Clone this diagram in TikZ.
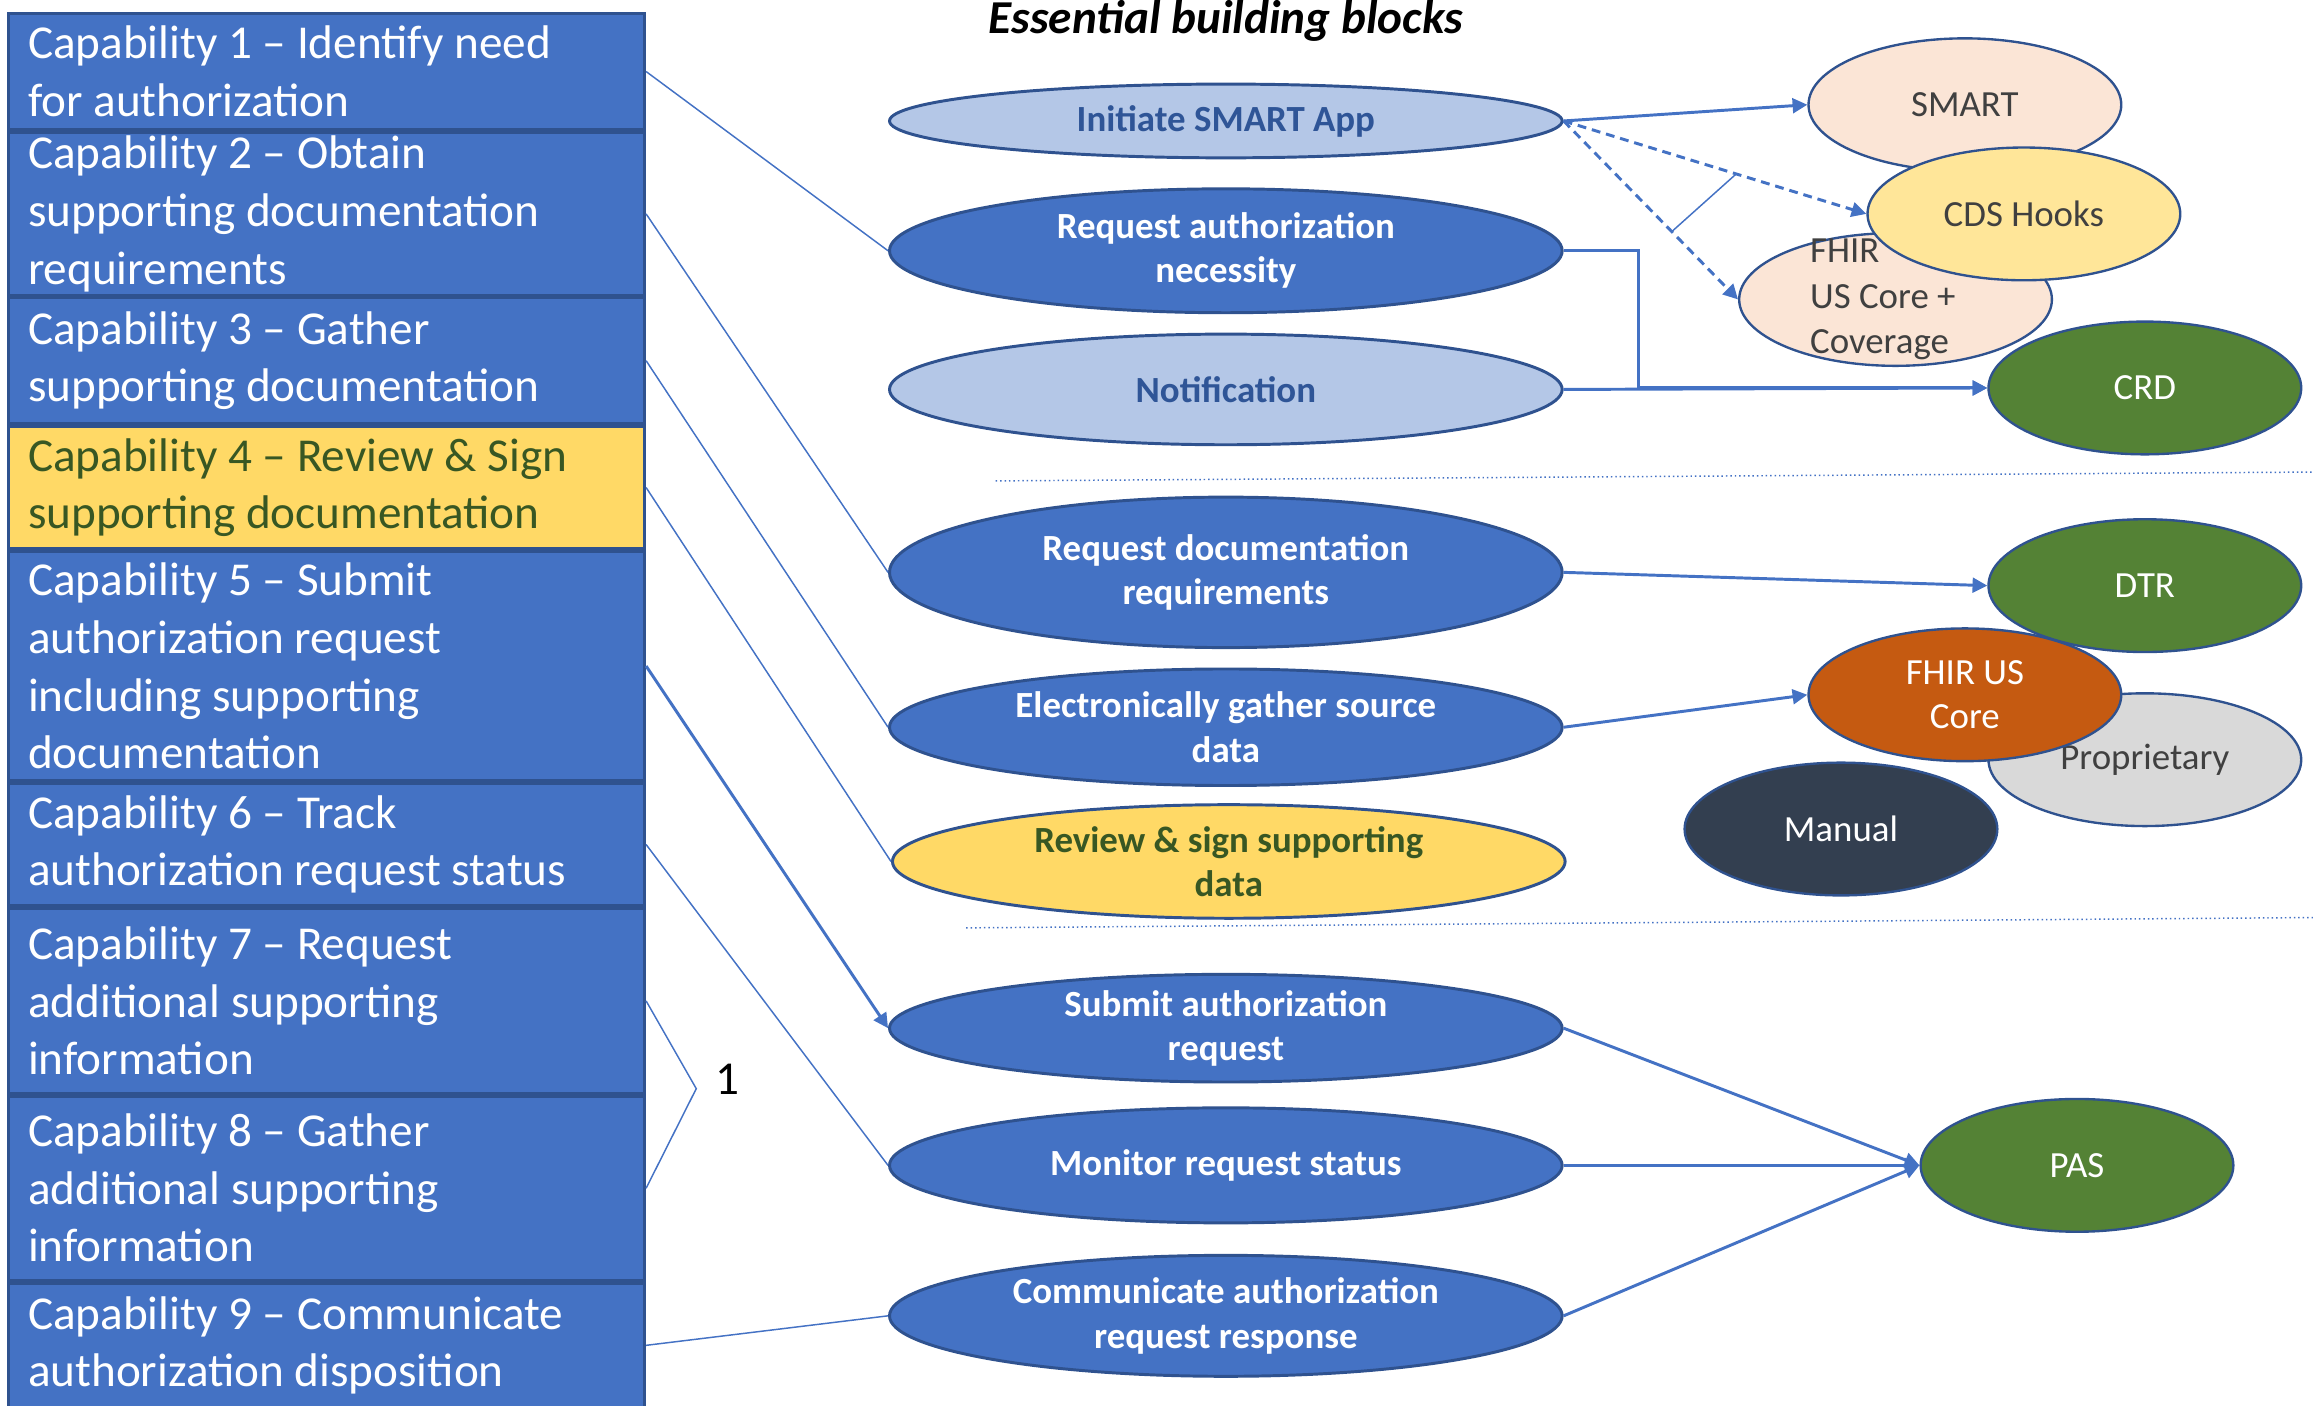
\documentclass[tikz,border=0pt]{standalone}
\usepackage{fontspec}
\setmainfont{Carlito}
\usepackage{tikz}
\usetikzlibrary{shapes, arrows.meta, positioning, calc}
\definecolor{capblue}{HTML}{4472C4}
\definecolor{edgeblue}{HTML}{2F528F}
\definecolor{paleblue}{HTML}{B4C7E7}
\definecolor{inkblue}{HTML}{2F5597}
\definecolor{signyellow}{HTML}{FFD966}
\definecolor{hookyellow}{HTML}{FFE699}
\definecolor{signgreen}{HTML}{385723}
\definecolor{peach}{HTML}{FBE5D6}
\definecolor{leaf}{HTML}{548235}
\definecolor{rust}{HTML}{C55A11}
\definecolor{silver}{HTML}{D9D9D9}
\definecolor{navy}{HTML}{333F50}
\definecolor{inkgray}{HTML}{404040}

\tikzset{
  capbox/.style={draw=edgeblue, line width=1pt, fill=capblue, text=white, anchor=north west,
    text width=202.5pt, inner xsep=6.5pt, inner ysep=0pt, align=flush left,
    font=\fontsize{16}{19.5}\selectfont},
  block/.style={ellipse, draw=edgeblue, line width=1pt, fill=capblue, text=white, inner sep=0pt,
    minimum width=228pt, align=center, font=\fontsize{12.5}{15}\selectfont\bfseries},
  paleblock/.style={block, fill=paleblue, text=inkblue},
  bubble/.style={ellipse, draw=edgeblue, line width=0.8pt, text=white, inner sep=0pt, align=center,
    minimum width=106pt, minimum height=45pt, font=\fontsize{12.5}{15}\selectfont},
  feed/.style={capblue, line width=0.5pt},
  link/.style={capblue, line width=1pt, -{Triangle[length=5pt,width=5pt]}},
  sep/.style={capblue, line width=0.5pt, densely dotted}
}

\begin{document}
\begin{tikzpicture}[x=0.5pt, y=-0.5pt]
      \useasboundingbox (0,0) rectangle (1568,953);

      \node[capbox, minimum height=39.5pt] (cap1) at (5,8) {Capability 1 -- Identify need\\for authorization};
      \node[capbox, minimum height=55pt, below=0pt of cap1] (cap2) {Capability 2 -- Obtain\\supporting documentation\\requirements};
      \node[capbox, minimum height=42.5pt, below=0pt of cap2] (cap3) {Capability 3 -- Gather\\supporting documentation};
      \node[capbox, minimum height=41.5pt, below=0pt of cap3, fill=signyellow, text=signgreen] (cap4) {Capability 4 -- Review \& Sign\\supporting documentation};
      \node[capbox, minimum height=77.5pt, below=0pt of cap4] (cap5) {Capability 5 -- Submit\\authorization request\\including supporting\\documentation};
      \node[capbox, minimum height=41.5pt, below=0pt of cap5] (cap6) {Capability 6 -- Track\\authorization request status};
      \node[capbox, minimum height=62.5pt, below=0pt of cap6] (cap7) {Capability 7 -- Request\\additional supporting\\information};
      \node[capbox, minimum height=62.5pt, below=0pt of cap7] (cap8) {Capability 8 -- Gather\\additional supporting\\information};
      \node[capbox, minimum height=42pt, below=0pt of cap8] (cap9) {Capability 9 -- Communicate\\authorization disposition};

      \node[font=\fontsize{16}{19}\selectfont\bfseries\itshape] (title) at (831,14) {Essential building blocks};

      \node[paleblock, minimum height=25pt] (init) at (831,82) {Initiate SMART App};
      \node[block, minimum height=42pt] (necess) at (831,170) {Request authorization\\necessity};
      \node[paleblock, minimum height=37.5pt] (notif) at (831,264) {Notification};
      \node[block, minimum height=51pt] (docreq) at (831,388) {Request documentation\\requirements};
      \node[block, minimum height=39.5pt] (gather) at (831,493) {Electronically gather source\\data};
      \node[block, minimum height=38.5pt, fill=signyellow, text=signgreen] (review) at (833,584) {Review \& sign supporting\\data};
      \node[block, minimum height=36.5pt] (submit) at (831,697) {Submit authorization\\request};
      \node[block, minimum height=39pt] (monitor) at (831,790) {Monitor request status};
      \node[block, minimum height=41pt] (respond) at (831,892) {Communicate authorization\\request response};

      \draw[sep] (675,326) -- (1568,320);
      \draw[sep] (655,629) -- (1568,622);

      \node[bubble, fill=peach, text=inkgray] (smart) at (1332,71) {SMART};
      \node[bubble, fill=peach] (fhir) at (1285,203) {};
      \node[text=inkgray, align=left, anchor=west, font=\fontsize{12.5}{15.5}\selectfont] (fhirtext) at (1220,203) {FHIR\\US Core +\\Coverage};
      \node[bubble, fill=hookyellow, text=inkgray] (cds) at (1372,145) {CDS Hooks};
      \node[bubble, fill=leaf] (crd) at (1454,263) {CRD};
      \node[bubble, fill=leaf] (dtr) at (1454,397) {DTR};
      \node[bubble, fill=silver, text=inkgray] (prop) at (1454,515) {Proprietary};
      \node[bubble, fill=rust] (uscore) at (1332,471) {FHIR US\\Core};
      \node[bubble, fill=navy] (manual) at (1248,562) {Manual};
      \node[bubble, fill=leaf] (pas) at (1408,790) {PAS};

      \draw[feed] (cap1.east) -- (necess.west);
      \draw[feed] (cap2.east) -- (docreq.west);
      \draw[feed] (cap3.east) -- (gather.west);
      \draw[feed] (cap4.east) -- (review.west);
      \draw[link] (cap5.east) -- (submit.west);
      \draw[feed] (cap6.east) -- (monitor.west);
      \coordinate (brk) at (472,738);
      \draw[feed] (cap7.east) -- (brk) -- (cap8.east);
      \node[font=\fontsize{16}{19}\selectfont] (one) at (493,732) {1};
      \draw[feed] (cap9.east) -- (respond.west);

      \draw[link] (init.east) -- (smart.west);
      \draw[link, dash pattern=on 3pt off 2pt] (init.east) -- (cds.west);
      \draw[link, dash pattern=on 3pt off 2pt] (init.east) -- (fhir.west);
      \draw[feed] ($(init.east)!0.62!(fhir.west)$) -- ($(init.east)!0.57!(cds.west)$);
      \draw[link] (necess.east) -- ++(51,0) |- (crd.west);
      \draw[link] (notif.east) -- (crd.west);
      \draw[link] (docreq.east) -- (dtr.west);
      \draw[link] (gather.east) -- (uscore.west);
      \draw[link] (submit.east) -- (pas.west);
      \draw[link] (monitor.east) -- (pas.west);
      \draw[link] (respond.east) -- (pas.west);
    \end{tikzpicture}
\end{document}
